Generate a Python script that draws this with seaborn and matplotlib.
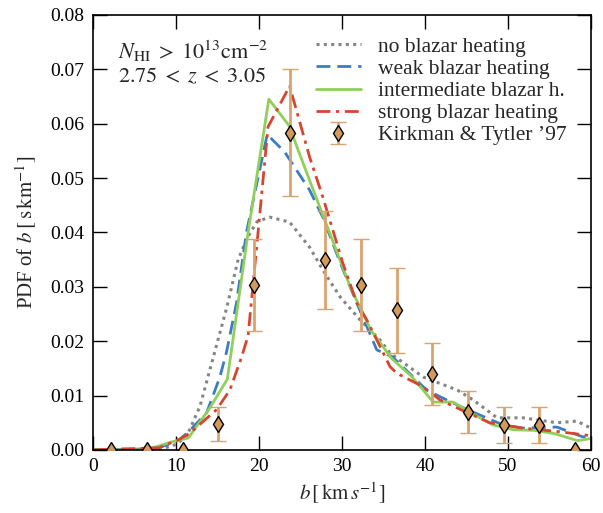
import numpy as np
import pandas as pd
import matplotlib
matplotlib.use("Agg")
import matplotlib.pyplot as plt
import seaborn as sns

# model curves: PDF of Doppler parameter b
x_none = [0, 8, 10, 11.3, 12.9, 14.5, 16.1, 17.5, 18.6, 19.8, 21.3, 23.7, 26.1, 27.7, 29.8,
          32.2, 34.6, 35.8, 39.8, 43.9, 45.8, 48.7, 51.8, 55.9, 58.3, 60]
y_none = [0, 0, 0.001, 0.0025, 0.008, 0.017, 0.026, 0.035, 0.039, 0.042, 0.0428, 0.0419, 0.0373,
          0.0331, 0.0281, 0.0239, 0.0202, 0.0178, 0.0134, 0.011, 0.0092, 0.0059, 0.0059, 0.005,
          0.0053, 0.004]

x_weak = [0, 7, 9, 10.5, 11.5, 13.7, 15.3, 16.1, 17.3, 18.5, 20.1, 21.0, 23.1, 26.1, 27.7, 29.8,
          31.8, 34.2, 36.1, 40.2, 42.6, 45.1, 49.4, 51.8, 55.9, 59, 60]
y_weak = [0, 0.0002, 0.0009, 0.002, 0.0033, 0.0068, 0.0134, 0.018, 0.027, 0.040, 0.0515, 0.058,
          0.0548, 0.0478, 0.0428, 0.0344, 0.027, 0.0184, 0.0171, 0.011, 0.0092, 0.0074, 0.0046,
          0.004, 0.0042, 0.0024, 0.0024]

x_inter = [0, 6, 7.7, 9.3, 11.5, 14.0, 16.2, 18.7, 21.2, 23.6, 26.1, 28.5, 31.0, 33.5, 36.0,
           38.4, 41.0, 43.4, 45.8, 48.2, 50.7, 53.1, 55.6, 58.4, 60]
y_inter = [0, 0, 0.0006, 0.0014, 0.0022, 0.0075, 0.013, 0.040, 0.0645, 0.0597, 0.0496, 0.040,
           0.030, 0.022, 0.0168, 0.0135, 0.0088, 0.0088, 0.0066, 0.0046, 0.0037, 0.0036, 0.003,
           0.0017, 0.0021]

x_strong = [0, 4, 8, 10.5, 11.7, 14.9, 16.5, 17.9, 18.7, 19.9, 21.1, 23.7, 26.1, 27.7, 30.1,
            31.8, 33.0, 35.8, 36.6, 39.8, 41.8, 43.9, 47.8, 51.8, 55.9, 60]
y_strong = [0, 0.0002, 0.0004, 0.002, 0.0031, 0.0074, 0.011, 0.017, 0.021, 0.040, 0.0594, 0.0669,
            0.0539, 0.0465, 0.0344, 0.027, 0.0239, 0.0153, 0.0141, 0.0116, 0.0092, 0.0077, 0.005,
            0.004, 0.0034, 0.0026]

# Kirkman & Tytler '97 data
kt_b = [2.2, 6.5, 10.8, 15.1, 19.4, 23.7, 28.0, 32.3, 36.6, 40.9, 45.2, 49.5, 53.8, 58.1]
kt_pdf = [0, 0, 0, 0.0048, 0.0303, 0.0583, 0.0349, 0.0303, 0.0257, 0.014, 0.007, 0.0046, 0.0046, 0]
kt_err = [np.nan, np.nan, np.nan, 0.0031, 0.0085, 0.0117, 0.009, 0.0084, 0.0078, 0.0057, 0.0039,
          0.0033, 0.0033, np.nan]

sns.set_theme(style="ticks")
plt.rcParams["font.family"] = ["Liberation Serif", "DejaVu Serif"]
plt.rcParams["mathtext.fontset"] = "stix"
plt.rcParams["font.size"] = 14

fig = plt.figure(figsize=(6.03, 5.13), dpi=100)
ax = fig.add_axes([0.154, 0.123, 0.826, 0.848])

curves = [
    (x_none, y_none, "no blazar heating", "#858585", (0, (1, 1.4)), 2.2),
    (x_weak, y_weak, "weak blazar heating", "#3b7dc4", (0, (5, 2.5)), 2.0),
    (x_inter, y_inter, "intermediate blazar h.", "#8fcf5a", "-", 2.0),
    (x_strong, y_strong, "strong blazar heating", "#d8452f", (0, (5, 2, 1.2, 2)), 2.0),
]
for xs, ys, lab, col, ls, lw in curves:
    df = pd.DataFrame({"b": xs, "pdf": ys})
    sns.lineplot(data=df, x="b", y="pdf", color=col, linestyle=ls, linewidth=lw,
                 label=lab, ax=ax, zorder=2)

ax.errorbar(kt_b, kt_pdf, yerr=kt_err, fmt="d", color="#d9a36e", ecolor="#d9a36e",
            markerfacecolor="#d39a5e", markeredgecolor="black", markeredgewidth=1.0,
            markersize=8, elinewidth=2, capsize=6, capthick=2, zorder=4,
            label="Kirkman & Tytler \u201997")

ax.set_xlim(0, 60)
ax.set_ylim(0, 0.08)
ax.set_xticks([0, 10, 20, 30, 40, 50, 60])
ax.set_yticks(np.arange(0, 0.081, 0.01))
ax.yaxis.set_major_formatter(matplotlib.ticker.FormatStrFormatter("%.2f"))
ax.tick_params(direction="in", length=10, width=1, top=True, right=True, labelsize=14,
               colors="black", pad=6)
for s in ax.spines.values():
    s.set_linewidth(1.2)
    s.set_color("black")

ax.set_xlabel(r"$b\,[\,\mathrm{km}\,s^{-1}]$", fontsize=15, labelpad=4)
ax.set_ylabel(r"PDF of $b\;[\,\mathrm{s\,km}^{-1}]$", fontsize=15, labelpad=8)

ax.text(0.05, 0.945, r"$N_{\rm HI}\;>\;10^{13}{\rm cm}^{-2}$", transform=ax.transAxes,
        fontsize=16, va="top")
ax.text(0.05, 0.88, r"$2.75\;<\;z\;<\;3.05$", transform=ax.transAxes, fontsize=16, va="top")

ax.legend(loc="upper left", bbox_to_anchor=(0.43, 0.97), frameon=False, fontsize=15.5,
          handlelength=2.1, labelspacing=0.1, borderaxespad=0.0, handletextpad=0.8)

fig.savefig("out.png", dpi=100)
